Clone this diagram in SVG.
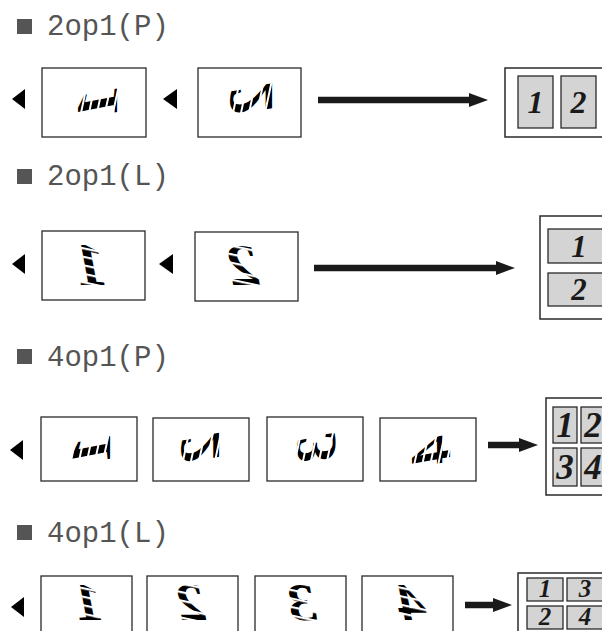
<svg xmlns="http://www.w3.org/2000/svg" width="602" height="631" viewBox="0 0 602 631">
<style>
.hdr{font-family:"Liberation Mono","Courier New",monospace;font-size:29px;fill:#555}
.bul{fill:#555}
.sheet{fill:#fff;stroke:#2a2a2a;stroke-width:1.3}
.tri{fill:#000}
.g{font-family:"Liberation Serif","Times New Roman",serif;font-weight:bold;font-style:italic;font-size:40px;fill:#000;text-anchor:middle}
.out{fill:#fff;stroke:#2a2a2a;stroke-width:1.5}
.cell{fill:#d4d4d4;stroke:#2a2a2a;stroke-width:1.3}
.num{font-family:"Liberation Serif","Times New Roman",serif;font-weight:bold;font-style:italic;fill:#1a1a1a;text-anchor:middle}
.conn{stroke:#1a1a1a;stroke-width:6.5;fill:none;marker-end:url(#ah)}
</style>
<defs>
<marker id="ah" markerUnits="userSpaceOnUse" markerWidth="19" markerHeight="14" viewBox="0 0 19 14" refX="0" refY="7" orient="auto"><path d="M0,0 L19,7 L0,14 z" fill="#1a1a1a"/></marker>
<pattern id="sv" patternUnits="userSpaceOnUse" width="8" height="8" patternTransform="skewX(-12)"><rect x="0" y="0" width="2" height="8" fill="#fff"/></pattern>
<pattern id="sh" patternUnits="userSpaceOnUse" width="8" height="8.5" patternTransform="skewY(12)"><rect x="0" y="0" width="8" height="2.2" fill="#fff"/></pattern>
</defs>

<g id="hdr-2op1P"><rect class="bul" x="17" y="19" width="15" height="15"/><text class="hdr" x="47" y="35">2op1(P)</text></g>
<g id="hdr-2op1L"><rect class="bul" x="17" y="169" width="15" height="15"/><text class="hdr" x="47" y="185">2op1(L)</text></g>
<g id="hdr-4op1P"><rect class="bul" x="17" y="349" width="15" height="15"/><text class="hdr" x="47" y="366">4op1(P)</text></g>
<g id="hdr-4op1L"><rect class="bul" x="17" y="525" width="15" height="15"/><text class="hdr" x="47" y="542">4op1(L)</text></g>

<!-- Row 1 -->
<g id="r1-tri1"><polygon class="tri" points="12,99 25,89 25,109"/></g>
<g id="r1-sheet1"><rect class="sheet" x="42" y="68" width="104" height="69"/>
<text class="g" x="0" y="13.5" transform="matrix(0,1.6,1.5,0,97,103)">1</text><rect x="70" y="86" width="54" height="34" fill="url(#sv)"/></g>
<g id="r1-tri2"><polygon class="tri" points="163,99 177,89 177,109"/></g>
<g id="r1-sheet2"><rect class="sheet" x="198" y="68" width="103" height="69"/>
<text class="g" x="0" y="13.5" transform="matrix(0,1.5,1.6,0,250,99)">2</text><rect x="222" y="82" width="56" height="36" fill="url(#sv)"/></g>
<g id="r1-out"><rect class="out" x="505" y="68" width="110" height="69"/>
<rect class="cell" x="518" y="76" width="35" height="52"/><rect class="cell" x="561" y="76" width="35" height="52"/>
<text class="num" font-size="32" x="535.5" y="113">1</text><text class="num" font-size="32" x="578.5" y="113">2</text></g>

<!-- Row 2 -->
<g id="r2-tri1"><polygon class="tri" points="12,264 25,254 25,274"/></g>
<g id="r2-sheet1"><rect class="sheet" x="42" y="231" width="103" height="69"/>
<text class="g" x="0" y="13.5" transform="matrix(-1.6,0,0,1.55,90,264)">1</text><rect x="68" y="238" width="44" height="52" fill="url(#sh)"/></g>
<g id="r2-tri2"><polygon class="tri" points="159,264 173,254 173,274"/></g>
<g id="r2-sheet2"><rect class="sheet" x="195" y="232" width="103" height="69"/>
<text class="g" x="0" y="13.5" transform="matrix(-1.6,0,0,1.5,243,265)">2</text><rect x="220" y="240" width="46" height="52" fill="url(#sh)"/></g>
<g id="r2-out"><rect class="out" x="540" y="216" width="80" height="103"/>
<rect class="cell" x="548" y="229" width="62" height="34"/><rect class="cell" x="548" y="273" width="62" height="33"/>
<text class="num" font-size="31" x="579" y="257">1</text><text class="num" font-size="31" x="579" y="300">2</text></g>

<!-- Row 3 -->
<g id="r3-tri1"><polygon class="tri" points="10,450 23,440 23,460"/></g>
<g id="r3-sheet1"><rect class="sheet" x="41" y="417" width="96" height="64"/>
<text class="g" x="0" y="13.5" transform="matrix(0,1.55,1.4,0,91,450)">1</text><rect x="64" y="432" width="54" height="34" fill="url(#sv)"/></g>
<g id="r3-sheet2"><rect class="sheet" x="153" y="418" width="96" height="63"/>
<text class="g" x="0" y="13.5" transform="matrix(0,1.45,1.4,0,200,448)">2</text><rect x="173" y="430" width="54" height="36" fill="url(#sv)"/></g>
<g id="r3-sheet3"><rect class="sheet" x="267" y="417" width="96" height="64"/>
<text class="g" x="0" y="13.5" transform="matrix(0,1.45,1.4,0,316,448)">3</text><rect x="289" y="430" width="54" height="36" fill="url(#sv)"/></g>
<g id="r3-sheet4"><rect class="sheet" x="380" y="418" width="96" height="63"/>
<text class="g" x="0" y="13.5" transform="matrix(0,1.45,1.4,0,431,451)">4</text><rect x="404" y="432" width="54" height="36" fill="url(#sv)"/></g>
<g id="r3-out"><rect class="out" x="546" y="398" width="70" height="97"/>
<rect class="cell" x="553" y="407" width="24" height="36"/><rect class="cell" x="581" y="407" width="24" height="36"/>
<rect class="cell" x="553" y="448" width="24" height="38"/><rect class="cell" x="581" y="448" width="24" height="38"/>
<text class="num" font-size="35" x="565" y="437">1</text><text class="num" font-size="35" x="593" y="437">2</text>
<text class="num" font-size="35" x="565" y="479">3</text><text class="num" font-size="35" x="593" y="479">4</text></g>

<!-- Row 4 -->
<g id="r4-tri1"><polygon class="tri" points="11,607 24,597 24,617"/></g>
<g id="r4-sheet1"><rect class="sheet" x="41" y="576" width="91" height="70"/>
<text class="g" x="0" y="13.5" transform="matrix(-1.45,0,0,1.3,88,602)">1</text><rect x="66" y="580" width="44" height="48" fill="url(#sh)"/></g>
<g id="r4-sheet2"><rect class="sheet" x="147" y="576" width="91" height="70"/>
<text class="g" x="0" y="13.5" transform="matrix(-1.45,0,0,1.3,191,602)">2</text><rect x="169" y="580" width="44" height="48" fill="url(#sh)"/></g>
<g id="r4-sheet3"><rect class="sheet" x="255" y="576" width="91" height="70"/>
<text class="g" x="0" y="13.5" transform="matrix(-1.45,0,0,1.3,302,602)">3</text><rect x="280" y="580" width="44" height="48" fill="url(#sh)"/></g>
<g id="r4-sheet4"><rect class="sheet" x="362" y="576" width="91" height="70"/>
<text class="g" x="0" y="13.5" transform="matrix(-1.45,0,0,1.3,411,602)">4</text><rect x="389" y="580" width="44" height="48" fill="url(#sh)"/></g>
<g id="r4-out"><rect class="out" x="518" y="573" width="100" height="70"/>
<rect class="cell" x="527" y="578" width="36" height="23"/><rect class="cell" x="567" y="578" width="36" height="23"/>
<rect class="cell" x="527" y="606" width="36" height="23"/><rect class="cell" x="567" y="606" width="36" height="23"/>
<text class="num" font-size="25" x="545" y="597">1</text><text class="num" font-size="25" x="585" y="597">3</text>
<text class="num" font-size="25" x="545" y="625">2</text><text class="num" font-size="25" x="585" y="625">4</text></g>

<g id="connectors">
<line class="conn" x1="318" y1="100" x2="469" y2="100"/>
<line class="conn" x1="314" y1="268" x2="496" y2="268"/>
<line class="conn" x1="488" y1="445" x2="519" y2="445"/>
<line class="conn" x1="465" y1="605" x2="493" y2="605"/>
</g>
</svg>
